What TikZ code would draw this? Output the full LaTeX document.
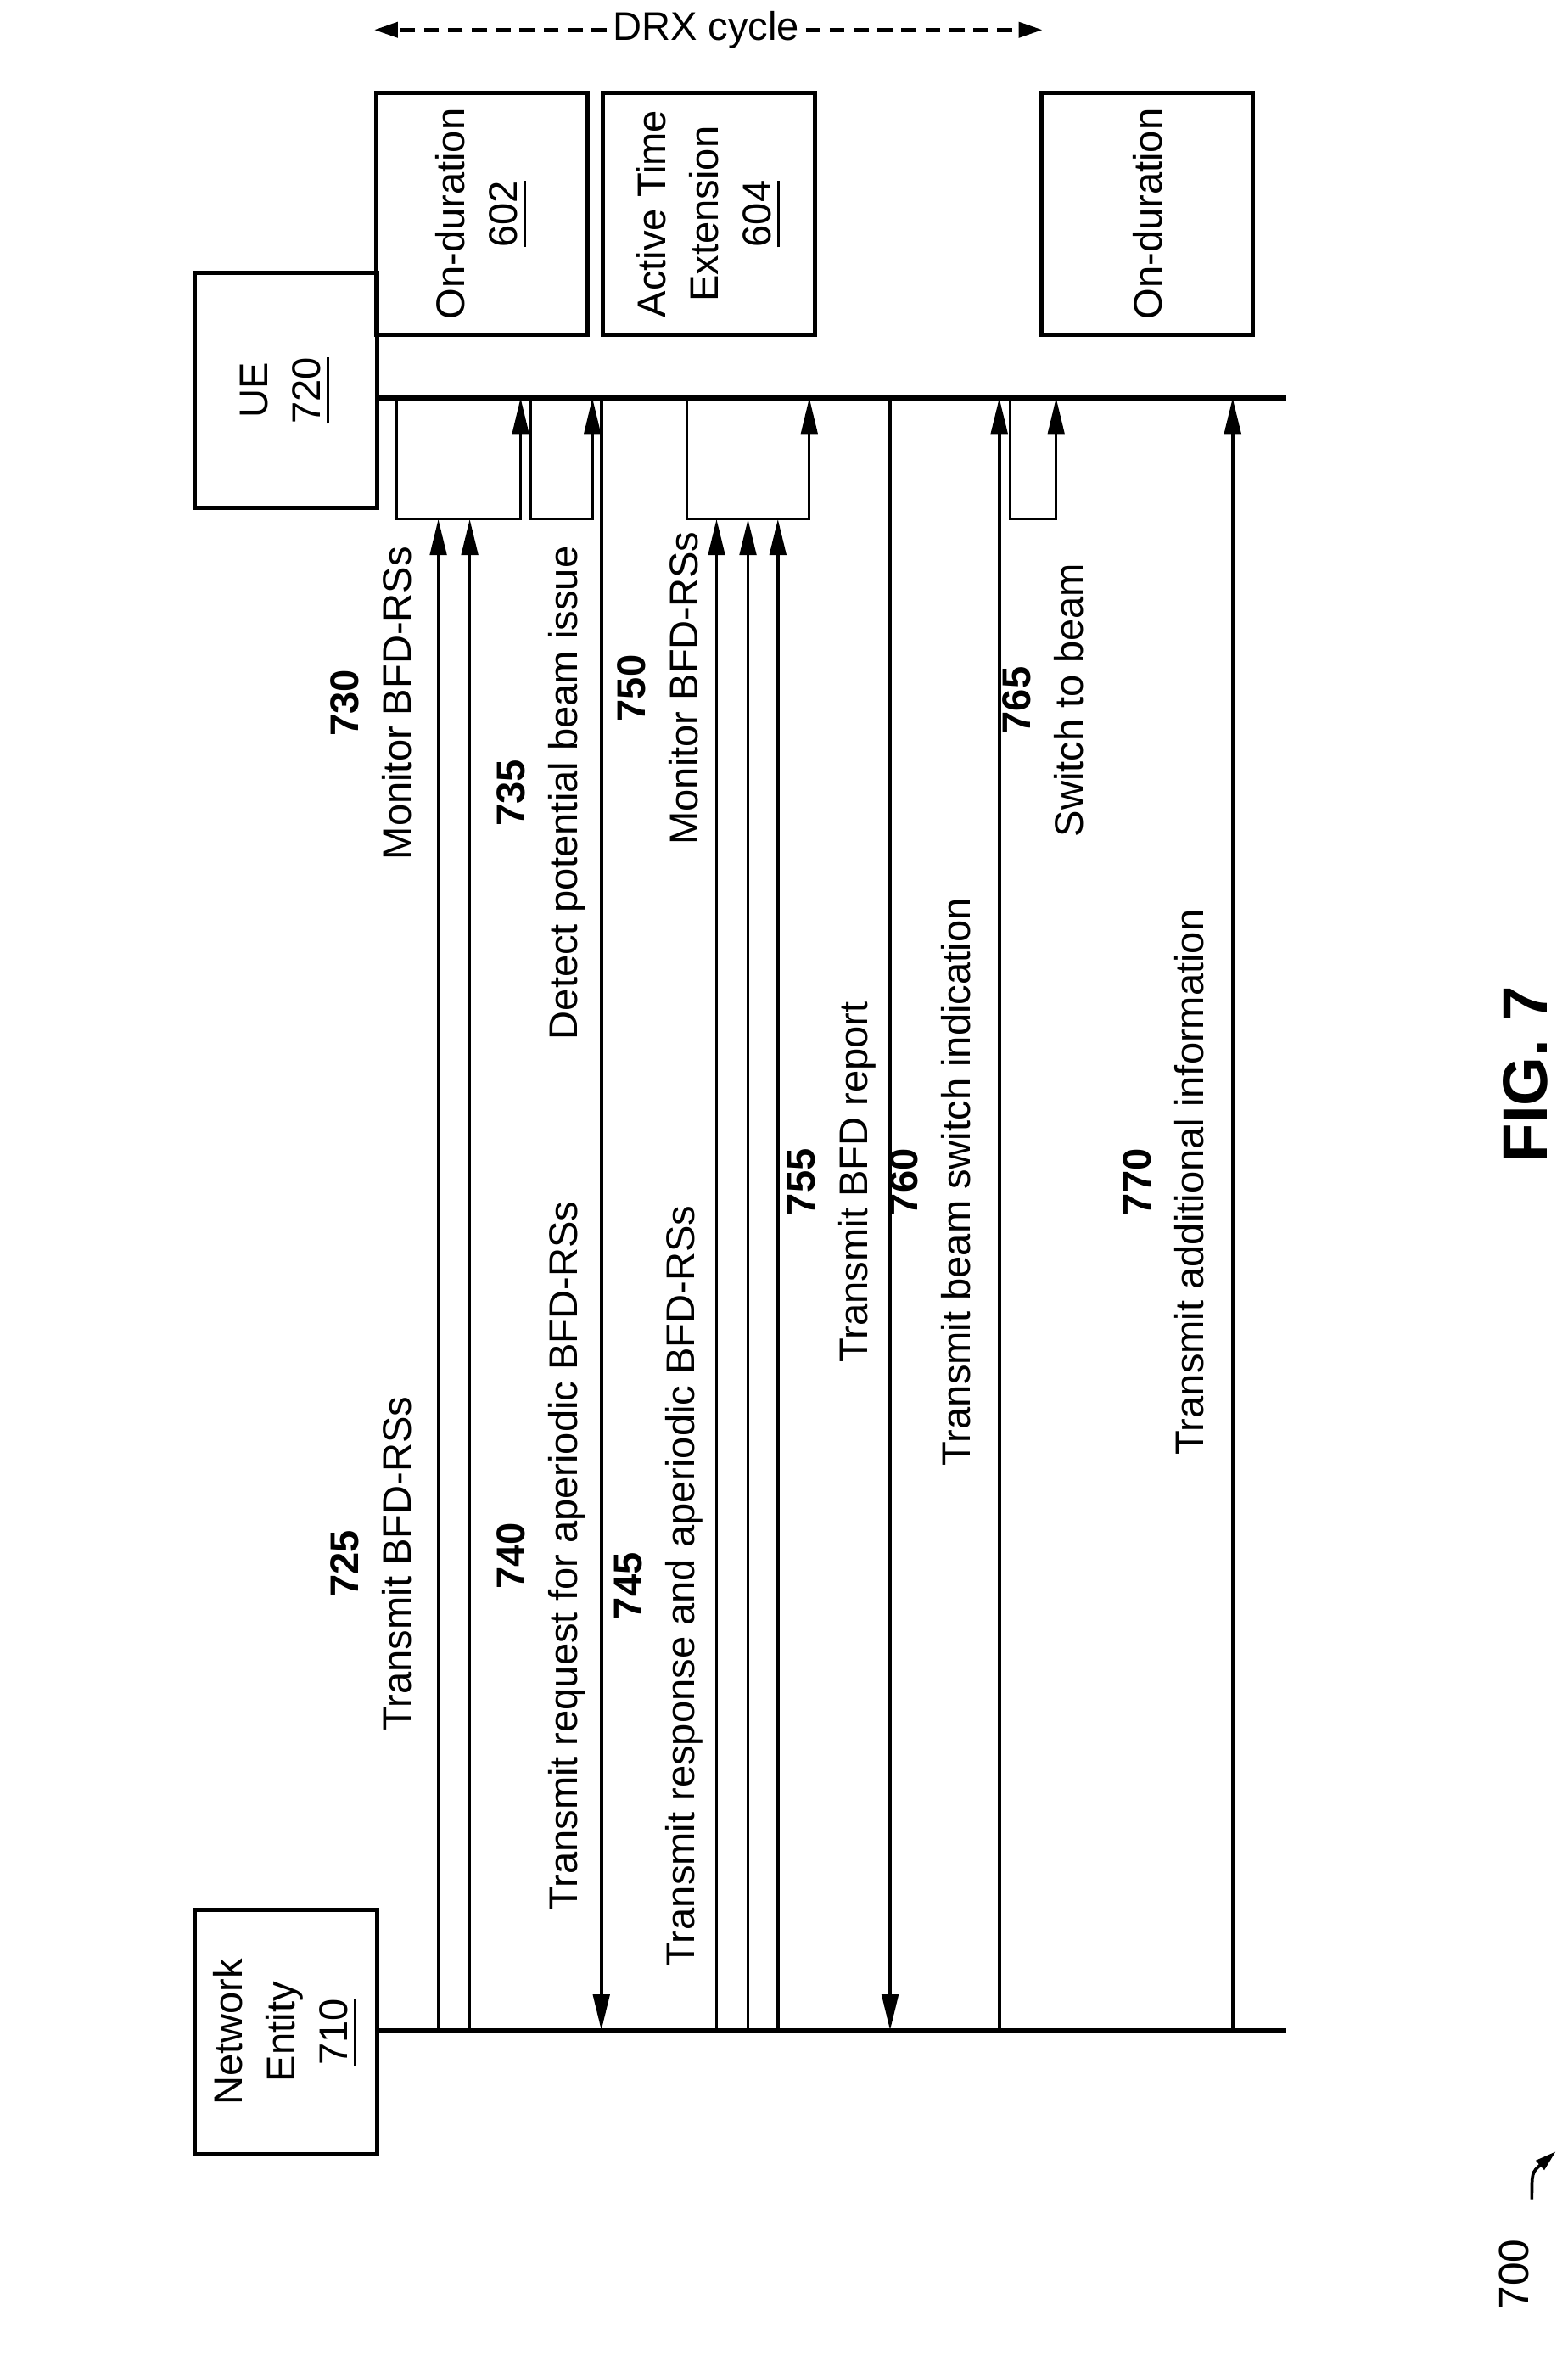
\documentclass[tikz,border=0pt]{standalone}
\usepackage{fontspec}
\setmainfont{Liberation Sans}
\usetikzlibrary{arrows.meta}
\tikzset{
    box/.style={draw, line width=0.8pt, align=center, font=\fontsize{7.6}{10}\selectfont},
    lbl/.style={rotate=90, align=center, font=\fontsize{7.6}{10}\selectfont},
    life/.style={line width=0.9pt},
    msg/.style={line width=0.6pt, -{Triangle[length=0.24cm,width=0.11cm]}},
    loopline/.style={line width=0.5pt, -{Triangle[length=0.24cm,width=0.11cm]}}
}
\begin{document}
\begin{tikzpicture}[x=0.01cm, y=-0.01cm]
        \useasboundingbox (0,0) rectangle (1048,1574);
        % Blocks
        \node[box, minimum width=1.22cm, minimum height=1.57cm] (ue) at (191,261) {};
        \node[lbl] at (ue) {UE\\\underline{720}};
        \node[box, minimum width=1.22cm, minimum height=1.63cm] (net) at (191,1358) {};
        \node[lbl] at (net) {Network\\Entity\\\underline{710}};
        \node[box, minimum width=1.41cm, minimum height=1.62cm] (on1) at (322,143) {};
        \node[lbl] at (on1) {On-duration\\\underline{602}};
        \node[box, minimum width=1.42cm, minimum height=1.62cm] (ext) at (474,143) {};
        \node[lbl] at (ext) {Active Time\\Extension\\\underline{604}};
        \node[box, minimum width=1.41cm, minimum height=1.62cm] (on2) at (767,143) {};
        \node[lbl] at (on2) {On-duration};

        % DRX cycle
        \node[fill=white, inner sep=1pt, font=\fontsize{7.6}{10}\selectfont] (drx) at (472,20) {DRX cycle};
        \coordinate (drxL) at (250,20);
        \coordinate (drxR) at (697,20);
        \draw[line width=0.8pt, dash pattern=on 0.1cm off 0.06cm, -{Triangle[length=0.16cm,width=0.1cm]}] (drx) -- (drxL);
        \draw[line width=0.8pt, dash pattern=on 0.1cm off 0.06cm, -{Triangle[length=0.16cm,width=0.1cm]}] (drx) -- (drxR);

        % Lifelines
        \coordinate (ueEnd) at (860,266);
        \coordinate (netEnd) at (860,1357);
        \draw[life] (ue.east |- ueEnd) -- (ueEnd);
        \draw[life] (net.east |- netEnd) -- (netEnd);

        % Local steps at the UE
        \draw[loopline] (265,266) -- (265,347) -- (348,347) -- (348,266);
        \draw[loopline] (355,266) -- (355,347) -- (396,347) -- (396,266);
        \draw[loopline] (459,266) -- (459,347) -- (541,347) -- (541,266);
        \draw[loopline] (675,266) -- (675,347) -- (706,347) -- (706,266);

        % Messages
        \draw[msg] (293,1357) -- (293,347);
        \draw[msg] (314,1357) -- (314,347);
        \draw[msg] (402,266) -- (402,1357);
        \draw[msg] (479,1357) -- (479,347);
        \draw[msg] (500,1357) -- (500,347);
        \draw[msg] (520,1357) -- (520,347);
        \draw[msg] (595,266) -- (595,1357);
        \draw[msg] (668,1357) -- (668,266);
        \draw[msg] (824,1357) -- (824,266);

        % Labels
        \node[lbl] (l730) at (248,470) {\textbf{730}\\Monitor BFD-RSs};
        \node[lbl] (l735) at (362,530) {\textbf{735}\\Detect potential beam issue};
        \node[lbl] (l750) at (440,460) {\textbf{750}\\Monitor BFD-RSs};
        \node[lbl] (l765) at (697,468) {\textbf{765}\\Switch to beam};
        \node[lbl] (l725) at (248,1045) {\textbf{725}\\Transmit BFD-RSs};
        \node[lbl] (l740) at (362,1040) {\textbf{740}\\Transmit request for aperiodic BFD-RSs};
        \node[lbl] (l745) at (440,1060) {\textbf{745}\\Transmit response and aperiodic BFD-RSs};
        \node[lbl] (l755) at (556,790) {\textbf{755}\\Transmit BFD report};
        \node[lbl] (l760) at (622,790) {\textbf{760}\\Transmit beam switch indication};
        \node[lbl] (l770) at (778,790) {\textbf{770}\\Transmit additional information};

        % Figure label
        \node[rotate=90, font=\fontsize{12}{14}\bfseries] (fig) at (1020,718) {FIG. 7};
        \node[rotate=90, font=\fontsize{8}{10}\selectfont] (ref) at (1012,1520) {700};
        \coordinate (refArrow) at (1024,1470);
        \draw[line width=0.6pt, -{Triangle[length=0.14cm,width=0.08cm]}] (refArrow) .. controls (1024,1452) .. (1040,1438);
    \end{tikzpicture}
\end{document}
